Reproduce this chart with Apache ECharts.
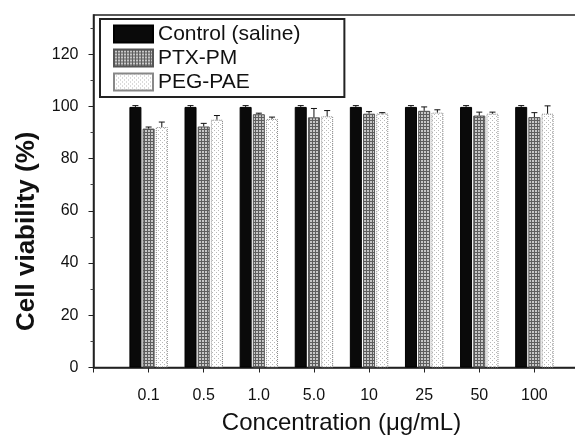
<!DOCTYPE html>
<html>
<head>
<meta charset="utf-8">
<script src="https://cdn.jsdelivr.net/npm/echarts@6/dist/echarts.min.js"></script>
<style>
  html, body { margin: 0; padding: 0; background: #fff; }
  #chart { width: 575px; height: 436px; }
</style>
</head>
<body>
<div id="chart"></div>
<script>
// ---- data ----
const categories = ['0.1', '0.5', '1.0', '5.0', '10', '25', '50', '100'];
const controlMean = [99.8, 99.8, 99.8, 99.8, 99.8, 99.8, 99.8, 99.8];
const controlErr  = [0.5, 0.5, 0.5, 0.5, 0.5, 0.5, 0.5, 0.5];
const ptxMean = [91.5, 92.3, 97.0, 95.8, 97.2, 98.3, 96.5, 95.9];
const ptxErr  = [0.6, 1.2, 0.4, 3.4, 0.8, 1.5, 1.3, 1.7];
const pegMean = [92.1, 94.9, 95.2, 96.2, 97.3, 97.6, 97.2, 97.2];
const pegErr  = [1.9, 1.6, 0.7, 2.2, 0.3, 1.1, 0.6, 3.0];
const yTicks = [0, 20, 40, 60, 80, 100, 120];
const seriesNames = ['Control (saline)', 'PTX-PM', 'PEG-PAE'];

// ---- styles ----
const FONT = 'Arial, "Liberation Sans", sans-serif';
const BAR_W = 12;
const BAR_GAP = 0.1;

function makePattern(w, h, draw) {
  const c = document.createElement('canvas');
  c.width = w; c.height = h;
  draw(c.getContext('2d'));
  return { image: c, repeat: 'repeat' };
}
const grayPattern = makePattern(3, 3, g => {
  g.fillStyle = '#c8c8c8'; g.fillRect(0, 0, 3, 3);
  g.fillStyle = '#5e5e5e'; g.fillRect(0, 0, 3, 1); g.fillRect(0, 0, 1, 3);
});
const whitePattern = makePattern(4, 4, g => {
  g.fillStyle = '#ffffff'; g.fillRect(0, 0, 4, 4);
  g.fillStyle = '#b8b8b8'; g.fillRect(0, 0, 1, 1); g.fillRect(2, 2, 1, 1);
});

const axisData = [''].concat(categories, ['']);
const pad = arr => ['-'].concat(arr, ['-']);

const barStyles = [
  { color: '#0a0a0a', borderColor: '#000', borderWidth: 1 },
  { color: grayPattern, borderColor: '#555', borderWidth: 1 },
  { color: whitePattern, borderColor: '#888', borderWidth: 1, borderType: 'dotted' }
];
const means = [controlMean, ptxMean, pegMean];
const errs = [controlErr, ptxErr, pegErr];

const series = [];
means.forEach((m, k) => {
  series.push({
    name: seriesNames[k],
    type: 'bar',
    data: pad(m),
    barWidth: BAR_W,
    barGap: (BAR_GAP * 100) + '%',
    itemStyle: barStyles[k],
    emphasis: { disabled: true },
    z: 2
  });
});
means.forEach((m, k) => {
  const offset = (k - 1) * BAR_W * (1 + BAR_GAP);
  series.push({
    type: 'custom',
    name: 'err' + k,
    data: categories.map((c, i) => [i + 1, m[i], errs[k][i]]),
    encode: { x: 0, y: 1 },
    z: 5,
    silent: true,
    renderItem: function (params, api) {
      const x = api.value(0), mv = api.value(1), e = api.value(2);
      const base = api.coord([x, mv]);
      const top = api.coord([x, mv + e]);
      const cx = base[0] + offset;
      const st = { stroke: '#111', lineWidth: 1 };
      return {
        type: 'group',
        children: [
          { type: 'line', shape: { x1: cx, y1: base[1], x2: cx, y2: top[1] }, style: st },
          { type: 'line', shape: { x1: cx - 3, y1: top[1], x2: cx + 3, y2: top[1] }, style: st }
        ]
      };
    }
  });
});

const chart = echarts.init(document.getElementById('chart'), null, { renderer: 'canvas' });
chart.setOption({
  animation: false,
  backgroundColor: '#fff',
  textStyle: { fontFamily: FONT },
  grid: {
    left: 93.5, top: 15, right: -14.5, bottom: 68.5,
    outerBoundsMode: 'none',
    containLabel: false,
    show: true, borderColor: '#222', borderWidth: 1.5, backgroundColor: 'transparent'
  },
  legend: {
    data: seriesNames,
    orient: 'vertical',
    left: 100, top: 19,
    padding: [4.5, 44, 4.5, 13],
    itemGap: 3,
    itemWidth: 39, itemHeight: 17,
    icon: 'rect',
    borderColor: '#222', borderWidth: 2,
    backgroundColor: '#fff',
    textStyle: { fontSize: 21, color: '#111', fontFamily: FONT }
  },
  xAxis: {
    type: 'category',
    data: axisData,
    boundaryGap: false,
    name: 'Concentration (\u03bcg/mL)',
    nameLocation: 'middle',
    nameGap: 44,
    nameTextStyle: { fontSize: 24, color: '#111', fontFamily: FONT },
    axisLine: { lineStyle: { color: '#222', width: 1.5 } },
    axisTick: { show: true, inside: false, length: 5, lineStyle: { color: '#222' } },
    axisLabel: { fontSize: 16, color: '#111', margin: 20, fontFamily: FONT, interval: 0 },
    splitLine: { show: false }
  },
  yAxis: {
    type: 'value',
    min: 0, max: 135, interval: 20,
    name: 'Cell viability (%)',
    nameLocation: 'middle',
    nameGap: 54,
    nameTextStyle: { fontSize: 26, fontWeight: 'bold', color: '#111', fontFamily: FONT, padding: [0, 80, 0, 0] },
    axisLine: { show: true, lineStyle: { color: '#222', width: 1.5 } },
    axisTick: { show: true, inside: false, length: 5, customValues: yTicks, lineStyle: { color: '#222' } },
    minorTick: { show: true, splitNumber: 2, length: 3, lineStyle: { color: '#444' } },
    axisLabel: { fontSize: 16, color: '#111', margin: 15, customValues: yTicks, fontFamily: FONT },
    splitLine: { show: false }
  },
  series: series
});
</script>
</body>
</html>
